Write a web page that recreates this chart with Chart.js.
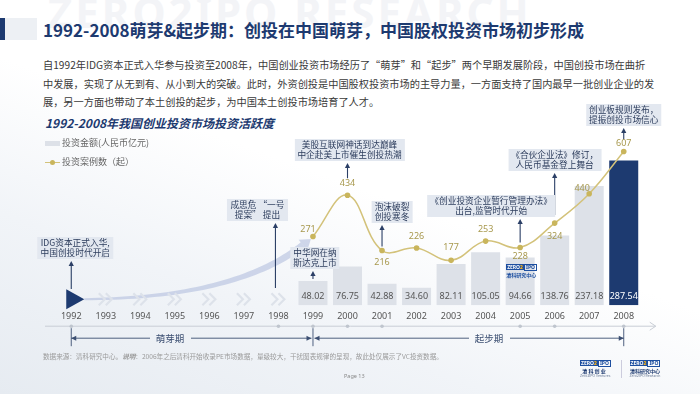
<!DOCTYPE html>
<html><head><meta charset="utf-8">
<script src="https://cdn.jsdelivr.net/npm/chart.js@4.4.1/dist/chart.umd.min.js"></script>
<style>
html,body{margin:0;padding:0;}
body{width:700px;height:394px;overflow:hidden;font-family:"Noto Sans CJK SC","Noto Sans",sans-serif;}
#slide{position:relative;width:700px;height:394px;overflow:hidden;
 background:linear-gradient(200deg,#ffffff 0%,#ffffff 48%,#f1f4f8 72%,#e6ebf1 100%);}
#c{position:absolute;left:0;top:0;}
.t{position:absolute;white-space:nowrap;}
.wm{left:48px;top:-17px;font:bold 42px "Noto Sans",sans-serif;color:#f3f4f7;letter-spacing:3px;}
.bar1{left:0;top:18px;width:5px;height:22px;background:#1d3a70;}
.bar2{left:5px;top:18px;width:32px;height:22px;background:#edf0f4;}
.title{left:43px;top:19px;font-size:17px;font-weight:bold;color:#1d3a70;line-height:22px;}
.para{left:43px;font-size:10.2px;color:#3a3a3a;line-height:14px;}
.sub{left:45px;top:116px;font-size:12px;font-weight:bold;font-style:italic;color:#1d3a70;line-height:14px;}
.leg{left:62px;font-size:9px;color:#666;line-height:12px;}
.note{position:absolute;white-space:nowrap;background:#e3e8f0;color:#2c3c5c;font-size:8.7px;line-height:10px;padding:1px 3px;text-align:center;transform:translateX(-50%);}
.vl{position:absolute;white-space:nowrap;font-size:9px;line-height:10px;transform:translate(-50%,-50%);font-family:"Noto Sans",sans-serif;}
.per{position:absolute;white-space:nowrap;font-size:9.5px;line-height:12px;color:#3c4f72;transform:translate(-50%,-50%);}
.foot{left:43px;top:352px;font-size:6.6px;color:#9a9a9a;line-height:9px;}
.page{left:344px;top:372px;font-size:5.5px;color:#888;font-family:"Noto Sans",sans-serif;}
.logo{position:absolute;white-space:nowrap;text-align:center;line-height:1;}
.zrow{white-space:nowrap;font-size:0;}
.zb{display:inline-block;background:#1d4fa0;color:#fff;font:bold 5px/6px "Noto Sans",sans-serif;padding:0 1px;vertical-align:top;}
.zb b{color:#f2b01e;}
.zi{display:inline-block;border:0.6px solid #1d4fa0;color:#1d4fa0;font:bold 5px/5px "Noto Sans",sans-serif;padding:0 1px;vertical-align:top;}
.zc{font-size:5px;line-height:6px;color:#1d3a70;font-weight:bold;margin-top:1px;}
.ze{font-size:3.5px;line-height:4px;color:#6a7a96;}
</style></head>
<body>
<div id="slide">
<div class="t wm">ZERO2IPO RESEARCH</div>
<div class="t bar2"></div><div class="t bar1"></div>
<div class="t title">1992-2008萌芽&amp;起步期：创投在中国萌芽，中国股权投资市场初步形成</div>
<div class="t para" style="top:58px">自1992年IDG资本正式入华参与投资至2008年，中国创业投资市场经历了“萌芽”和“起步”两个早期发展阶段，中国创投市场在曲折</div>
<div class="t para" style="top:76.5px">中发展，实现了从无到有、从小到大的突破。此时，外资创投是中国股权投资市场的主导力量，一方面支持了国内最早一批创业企业的发</div>
<div class="t para" style="top:95px">展，另一方面也带动了本土创投的起步，为中国本土创投市场培育了人才。</div>
<div class="t sub">1992-2008年我国创业投资市场投资活跃度</div>
<canvas id="c" width="700" height="394"></canvas>
<div class="t" style="left:45px;top:141px;width:15px;height:5px;background:#dde1e8"></div>
<div class="t leg" id="leg1" style="top:137px"></div>
<div class="t" style="left:45px;top:161.5px;width:15px;height:1.5px;background:#d3c27a"></div>
<div class="t" style="left:50px;top:159.5px;width:5px;height:5px;border-radius:50%;background:#c9b55c"></div>
<div class="t leg" id="leg2" style="top:156px"></div>
<div class="t foot">数据来源：清科研究中心。<b><i>说明</i></b>：2006年之后清科开始收录PE市场数据，量级较大，干扰图表规律的呈现，故此处仅展示了VC投资数据。</div>
<div class="t page">Page 13</div>
<div class="logo" style="left:580px;top:360px;width:28px"><div class="zrow"><span class="zb">ZERO<b>2</b></span><span class="zi">IPO</span></div><div class="zc">清 科 创 业</div><div class="ze">Zero2IPO Ventures</div></div>
<div class="t" style="left:621px;top:360px;width:0.6px;height:18px;background:#ccd"></div>
<div class="logo" style="left:628px;top:360px;width:34px"><div class="zrow"><span class="zb">ZERO<b>2</b></span><span class="zi">IPO</span></div><div class="zc">清科研究中心</div><div class="ze">Zero2IPO Research</div></div>
<div id="ov"></div>
</div>
<script>
// ---------- data ----------
const years = ['1992','1993','1994','1995','1996','1997','1998','1999','2000','2001','2002','2003','2004','2005','2006','2007','2008'];
const amounts = [null,null,null,null,null,null,null,48.02,76.75,42.88,34.60,82.11,105.05,94.66,138.76,237.18,287.54];
const deals = [null,null,null,null,null,null,null,271,434,216,226,177,253,228,324,440,607];
const seriesNames = ['投资金额(人民币亿元)','投资案例数（起）'];
const noteYears = ['1992','1998','1999','2000','2001','2005','2006','2008'];
const noteLines = [
 ['IDG资本正式入华,','中国创投时代开启'],
 ['成思危 “一号','提案” 提出'],
 ['中华网在纳','斯达克上市'],
 ['美股互联网神话到达巅峰','中企赴美上市催生创投热潮'],
 ['泡沫破裂','创投寒冬'],
 ['《创业投资企业暂行管理办法》','出台,监管时代开始'],
 ['《合伙企业法》修订，','人民币基金登上舞台'],
 ['创业板规则发布，','提振创投市场信心']
];
const periodNames = ['萌芽期','起步期'];
const periodSpans = [['1992','1999'],['1999','2008']];
const axisDotYears = ['1992','1998','1999','2000','2001','2005','2006','2008'];
const chevronYears = ['1993','1994','1995','1996','1997','1998'];

// ---------- layout / style ----------
const NAVY = '#1d3a70', LIGHT = '#dde1e8', GOLD = '#d3c27a', GOLDPT = '#c9b55c', GOLDTXT = '#a8994e', ARROW = '#2b3f66';
const NOTE_LAYOUT = [
 {dx:4, top:237, anchor:'fixed', y:289},
 {dx:-21, top:199, anchor:'fixed', y:288},
 {dx:2, top:247, anchor:'bar', gap:2},
 {dx:2, top:139, anchor:'point', gap:17},
 {dx:10, top:201, anchor:'point', gap:4},
 {dx:-29, top:195, anchor:'point', gap:5},
 {dx:0, top:149, anchor:'point', gap:8},
 {dx:0, top:104, anchor:'point', gap:12}
];
const NOTE_H = 22;
const PT_LABEL_OFF = {'1999':[-5,-8],'2000':[0,-12],'2001':[0,12],'2002':[0,-12],'2003':[0,-13],'2004':[0,-12],'2005':[0,9],'2006':[0,13],'2007':[-7,-6],'2008':[0,-8]};
const PERIOD_TEXT_X = [170, 489];
const AXIS_Y_OFF = 21, PERIOD_Y_OFF = 33;

Chart.defaults.font.family = "'Noto Sans','Noto Sans CJK SC',sans-serif";

function arrowUp(ctx, x, yFrom, yTip){
  ctx.save();
  ctx.strokeStyle = ARROW; ctx.fillStyle = ARROW; ctx.lineWidth = 1.1;
  ctx.beginPath(); ctx.moveTo(x, yFrom); ctx.lineTo(x, yTip + 4); ctx.stroke();
  ctx.beginPath(); ctx.moveTo(x, yTip); ctx.lineTo(x - 2.6, yTip + 5); ctx.lineTo(x + 2.6, yTip + 5); ctx.closePath(); ctx.fill();
  ctx.restore();
}

const decor = {
  id:'decor',
  beforeDatasetsDraw(chart){
    const ctx = chart.ctx, xs = chart.scales.x, base = chart.chartArea.bottom;
    const X = y => xs.getPixelForValue(years.indexOf(y));
    // curved arrow (tapering)
    const P0 = [X('1992') + 13, base - 6], P1 = [X('1997') - 10, base - 7], P2 = [X('1999') - 10, base - 60];
    const pts = [], N = 40;
    for (let i = 0; i <= N; i++){
      const t = i / N, a = (1-t)*(1-t), b = 2*(1-t)*t, c = t*t;
      const x = a*P0[0] + b*P1[0] + c*P2[0], y = a*P0[1] + b*P1[1] + c*P2[1];
      const dx = 2*(1-t)*(P1[0]-P0[0]) + 2*t*(P2[0]-P1[0]), dy = 2*(1-t)*(P1[1]-P0[1]) + 2*t*(P2[1]-P1[1]);
      const L = Math.hypot(dx, dy), w = 1 + 2.6*t;
      pts.push([x, y, -dy/L*w, dx/L*w, dx/L, dy/L]);
    }
    ctx.save();
    ctx.fillStyle = 'rgba(178,190,222,0.6)';
    ctx.beginPath();
    pts.forEach((p,i) => i ? ctx.lineTo(p[0]+p[2], p[1]+p[3]) : ctx.moveTo(p[0]+p[2], p[1]+p[3]));
    for (let i = pts.length-1; i >= 0; i--) ctx.lineTo(pts[i][0]-pts[i][2], pts[i][1]-pts[i][3]);
    ctx.closePath(); ctx.fill();
    const e = pts[pts.length-1], ux = e[4], uy = e[5];
    ctx.beginPath();
    ctx.moveTo(e[0] + ux*10, e[1] + uy*10);
    ctx.lineTo(e[0] - uy*7, e[1] + ux*7);
    ctx.lineTo(e[0] + uy*7, e[1] - ux*7);
    ctx.closePath(); ctx.fill();
    // chevrons
    ctx.strokeStyle = '#dde2ea'; ctx.lineWidth = 2.2; ctx.lineJoin = 'miter';
    chevronYears.forEach(y => {
      const cx = X(y), cy = base - 6;
      [-4, 3].forEach(o => {
        ctx.beginPath(); ctx.moveTo(cx + o - 3, cy - 6); ctx.lineTo(cx + o + 3, cy); ctx.lineTo(cx + o - 3, cy + 6); ctx.stroke();
      });
    });
    // triangle
    const tx = X('1992');
    ctx.fillStyle = NAVY;
    ctx.beginPath(); ctx.moveTo(tx - 5, base - 16); ctx.lineTo(tx + 13, base - 6); ctx.lineTo(tx - 5, base + 4); ctx.closePath(); ctx.fill();
    // axis line
    const ay = base + AXIS_Y_OFF;
    ctx.strokeStyle = '#c8cdd5'; ctx.lineWidth = 1;
    ctx.beginPath(); ctx.moveTo(45, ay); ctx.lineTo(X('2008') + 32, ay); ctx.stroke();
    ctx.beginPath(); ctx.moveTo(X('2008') + 26, ay - 4); ctx.lineTo(X('2008') + 32, ay); ctx.lineTo(X('2008') + 26, ay + 4); ctx.stroke();
    ctx.fillStyle = '#bfc5ce';
    axisDotYears.forEach(y => { ctx.beginPath(); ctx.arc(X(y), ay, 1.8, 0, Math.PI*2); ctx.fill(); });
    // period lines
    const py = base + PERIOD_Y_OFF;
    ctx.strokeStyle = '#3c4f72'; ctx.fillStyle = '#3c4f72'; ctx.lineWidth = 0.9;
    [X('1992'), X('1999'), X('2008')].forEach(x => { ctx.beginPath(); ctx.moveTo(x, ay + 2); ctx.lineTo(x, py + 8); ctx.stroke(); });
    periodSpans.forEach((s, k) => {
      const x1 = X(s[0]) + (k ? 1.5 : 0), x2 = X(s[1]) - (k ? 0 : 1.5), tc = PERIOD_TEXT_X[k];
      ctx.beginPath(); ctx.moveTo(x1, py); ctx.lineTo(tc - 20, py); ctx.moveTo(tc + 21, py); ctx.lineTo(x2, py); ctx.stroke();
      ctx.beginPath(); ctx.moveTo(x1, py); ctx.lineTo(x1 + 5, py - 2.5); ctx.lineTo(x1 + 5, py + 2.5); ctx.closePath(); ctx.fill();
      ctx.beginPath(); ctx.moveTo(x2, py); ctx.lineTo(x2 - 5, py - 2.5); ctx.lineTo(x2 - 5, py + 2.5); ctx.closePath(); ctx.fill();
    });
    ctx.restore();
  },
  afterDatasetsDraw(chart){
    const ctx = chart.ctx, xs = chart.scales.x, yb = chart.scales.y, yl = chart.scales.y2;
    noteYears.forEach((y, k) => {
      const i = years.indexOf(y), L = NOTE_LAYOUT[k], x = xs.getPixelForValue(i);
      let from;
      if (L.anchor === 'fixed') from = L.y;
      else if (L.anchor === 'bar') from = yb.getPixelForValue(amounts[i]) - L.gap;
      else from = yl.getPixelForValue(deals[i]) - L.gap;
      arrowUp(ctx, x - (y === '1998' ? 3 : 0), from, L.top + NOTE_H + 2);
    });
  }
};

const ctx = document.getElementById('c').getContext('2d');
const chart = new Chart(ctx, {
  data:{
    labels: years,
    datasets:[
      {type:'line', label:seriesNames[1], data:deals, yAxisID:'y2', borderColor:GOLD, borderWidth:1.5,
       pointRadius:2.8, pointBackgroundColor:GOLDPT, pointBorderWidth:0, tension:0.4, spanGaps:false},
      {type:'bar', label:seriesNames[0], data:amounts, yAxisID:'y',
       backgroundColor: years.map((y,i) => i === years.length-1 ? NAVY : LIGHT),
       barPercentage:0.84, categoryPercentage:1}
    ]
  },
  options:{
    responsive:false, animation:false, devicePixelRatio:1,
    layout:{padding:{left:54, right:59, top:100, bottom:66}},
    plugins:{legend:{display:false}, tooltip:{enabled:false}},
    scales:{
      x:{grid:{display:false, drawTicks:false}, border:{display:false},
         ticks:{color:'#555', font:{size:9}, padding:6, maxRotation:0, autoSkip:false}},
      y:{display:false, min:0, max:408},
      y2:{display:false, min:0, max:810}
    }
  },
  plugins:[decor]
});

// ---------- text overlays from scales ----------
document.getElementById('leg1').textContent = seriesNames[0];
document.getElementById('leg2').textContent = seriesNames[1];
const ov = document.getElementById('ov');
const xs = chart.scales.x, yb = chart.scales.y, yl = chart.scales.y2;
const base = chart.chartArea.bottom;
function add(cls, html, x, y, extra){
  const d = document.createElement('div'); d.className = cls; d.innerHTML = html;
  d.style.left = x + 'px'; d.style.top = y + 'px';
  if (extra) Object.assign(d.style, extra);
  ov.appendChild(d); return d;
}
years.forEach((y, i) => {
  const x = xs.getPixelForValue(i);
  if (amounts[i] != null){
    add('vl', amounts[i].toFixed(2), x, base - 9, {color: i === years.length-1 ? '#ffffff' : '#555'});
  }
  if (deals[i] != null){
    const o = PT_LABEL_OFF[y] || [0,-12];
    add('vl', String(deals[i]), x + o[0], yl.getPixelForValue(deals[i]) + o[1], {color: GOLDTXT});
  }
});
noteYears.forEach((y, k) => {
  const x = xs.getPixelForValue(years.indexOf(y)) + NOTE_LAYOUT[k].dx;
  add('note', noteLines[k].join('<br>'), x, NOTE_LAYOUT[k].top);
});
periodNames.forEach((p, k) => add('per', p, PERIOD_TEXT_X[k], base + PERIOD_Y_OFF));
// small brand mark on the 2005 bar
const x05 = xs.getPixelForValue(years.indexOf('2005'));
add('logo', '<div class="zrow"><span class="zb">ZERO<b>2</b></span><span class="zi">IPO</span></div><div class="zc" style="color:#1d4fa0">清科研究中心</div>', x05 - 14, base - 41, {width:'28px'});
</script>
</body></html>
